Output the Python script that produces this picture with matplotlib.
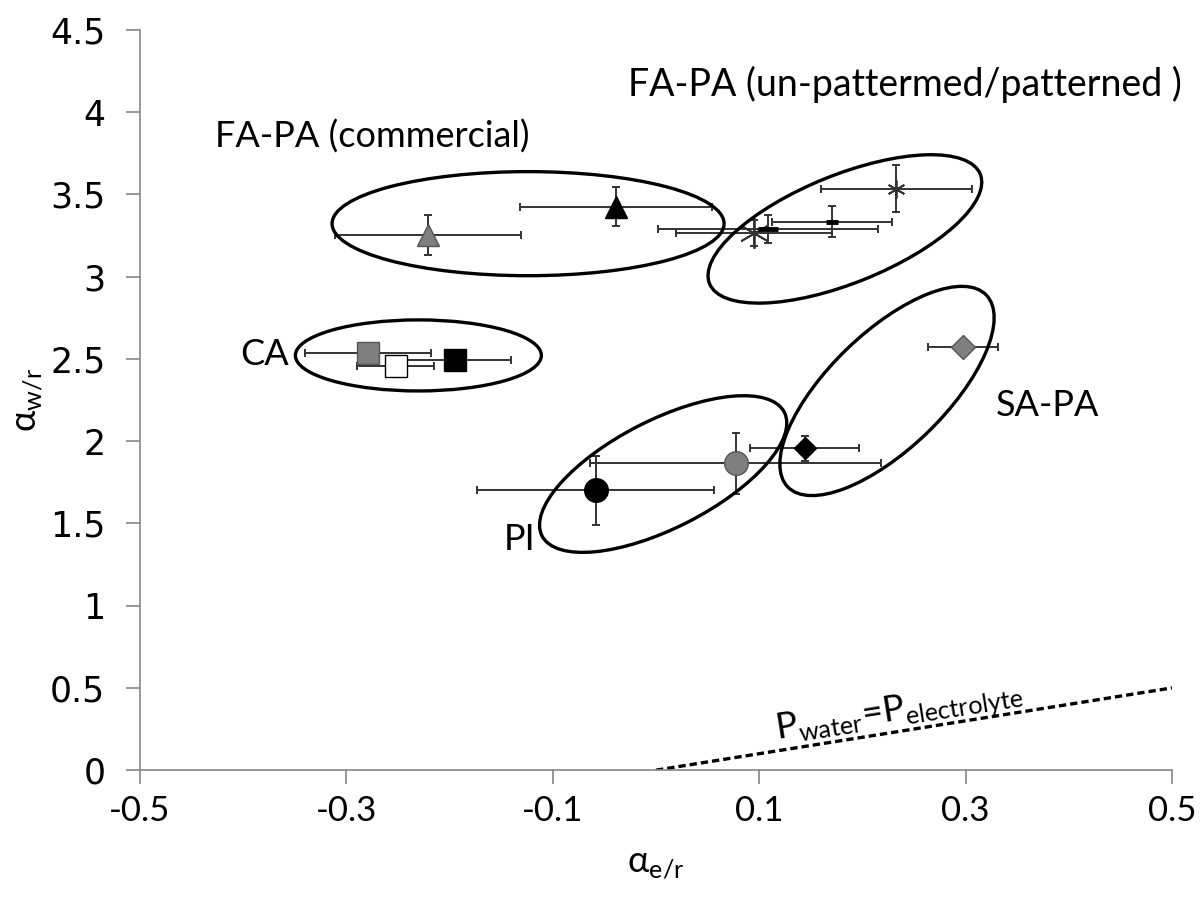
import matplotlib
matplotlib.use("Agg")
import matplotlib.pyplot as plt
from matplotlib.patches import Ellipse
from matplotlib.transforms import Affine2D

# ---- data ----
x_vals = [-0.221, -0.039, 0.0953, 0.1085, 0.1705, 0.233,
          -0.279, -0.2524, -0.1948, -0.0585, 0.077, 0.144, 0.2978]
y_vals = [3.254, 3.426, 3.265, 3.29, 3.335, 3.534,
          2.536, 2.457, 2.494, 1.70, 1.866, 1.956, 2.575]
x_err = [0.09, 0.093, 0.0756, 0.107, 0.058, 0.073,
         0.061, 0.0375, 0.054, 0.115, 0.141, 0.053, 0.034]
y_err = [0.12, 0.12, 0.078, 0.085, 0.092, 0.143,
         0.03, 0.03, 0.03, 0.21, 0.186, 0.074, 0.02]
markers = ['^', '^', (6, 2, 0), '_', '_', (6, 2, 0),
           's', 's', 's', 'o', 'o', 'D', 'D']
face = ['#7f7f7f', 'black', 'none', 'black', 'black', 'none',
        '#7f7f7f', 'white', 'black', 'black', '#7f7f7f', 'black', '#7f7f7f']
sizes = [16.5, 16.5, 22, 15, 8, 13, 16.3, 16.3, 16.3, 17, 17, 11, 12]

# group ellipses: centre (data), width/height (px), angle (deg, screen)
ell_cx = [-0.124, -0.2303, 0.183, 0.0069, 0.2238]
ell_cy = [3.322, 2.521, 3.29, 1.800, 2.305]
ell_w = [392, 246, 292, 272, 276]
ell_h = [104, 71, 108, 108, 116]
ell_ang = [0, 0, 22, 27, 44]

group_labels = ['FA-PA (commercial)', 'FA-PA (un-pattermed/patterned )', 'CA', 'SA-PA', 'PI']
group_lx = [-0.275, 0.241, -0.379, 0.379, -0.132]
group_ly = [3.85, 4.167, 2.524, 2.214, 1.40]
group_fs = [26, 27, 26, 26, 26]

line_x = [0.0, 0.5]
line_y = [0.0, 0.5]

x_ticks = [-0.5, -0.3, -0.1, 0.1, 0.3, 0.5]
y_ticks = [0, 0.5, 1, 1.5, 2, 2.5, 3, 3.5, 4, 4.5]

# ---- figure ----
fig = plt.figure(figsize=(12, 9.05), dpi=100)
ax = fig.add_axes([0.1167, 0.149, 0.86, 0.818])
ax.set_xlim(-0.5, 0.5)
ax.set_ylim(0, 4.5)

edge_dark = '#333333'
for i in range(len(x_vals)):
    m = markers[i]
    if m in ('_',):
        mec, mew = 'black', 3.5
    elif isinstance(m, tuple):
        mec, mew = '#333333', 1.3
    elif face[i] == '#7f7f7f':
        mec, mew = '#555555', 1.0
    else:
        mec, mew = 'black', 1.0
    ax.errorbar(x_vals[i], y_vals[i], xerr=x_err[i], yerr=y_err[i],
                fmt='none', ecolor=edge_dark, elinewidth=1.4, capsize=3,
                capthick=1.4, zorder=2)
    ax.plot(x_vals[i], y_vals[i], marker=m, ms=sizes[i], mfc=face[i],
            mec=mec, mew=mew, ls='none', zorder=3)

# ellipses drawn in pixel-isotropic space
sx = 1032.0
sy = 164.4
tr = Affine2D().scale(1 / sx, 1 / sy) + ax.transData
for cx, cy, w, h, a in zip(ell_cx, ell_cy, ell_w, ell_h, ell_ang):
    e = Ellipse((cx * sx, cy * sy), w, h, angle=a, transform=tr,
                fill=False, ec='black', lw=2.4, zorder=4)
    ax.add_patch(e)

ax.plot(line_x, line_y, ls=(0, (2.2, 1.2)), color='black', lw=2.4, zorder=2)

lab_font = ['Lato', 'DejaVu Sans']
for t, x, y, fs in zip(group_labels, group_lx, group_ly, group_fs):
    ax.text(x, y, t, ha='center', va='center', fontsize=fs, family=lab_font)

ax.text(0.236, 0.355, r'P$_{\mathregular{water}}$=P$_{\mathregular{electrolyte}}$',
        ha='center', va='center', fontsize=26, family=lab_font, rotation=9,
        rotation_mode='anchor')

# axes styling
for s in ['top', 'right']:
    ax.spines[s].set_visible(False)
for s in ['left', 'bottom']:
    ax.spines[s].set_color('#868686')
    ax.spines[s].set_linewidth(1.2)

ax.set_xticks(x_ticks)
ax.set_xticklabels([f'{v:g}' for v in x_ticks], family=lab_font, fontsize=25)
ax.set_yticks(y_ticks)
ax.set_yticklabels([f'{v:g}' for v in y_ticks], family='DejaVu Sans', fontsize=25)
ax.tick_params(axis='both', direction='out', length=10, width=1.2, color='#868686')
ax.tick_params(axis='x', pad=8)
ax.tick_params(axis='y', pad=15)

ax.set_xlabel(r'α$_{\mathregular{e/r}}$', fontsize=26, family=lab_font, labelpad=14)
ax.set_ylabel(r'α$_{\mathregular{w/r}}$', fontsize=26, family=lab_font, labelpad=4)

fig.savefig('out.png', dpi=100)
